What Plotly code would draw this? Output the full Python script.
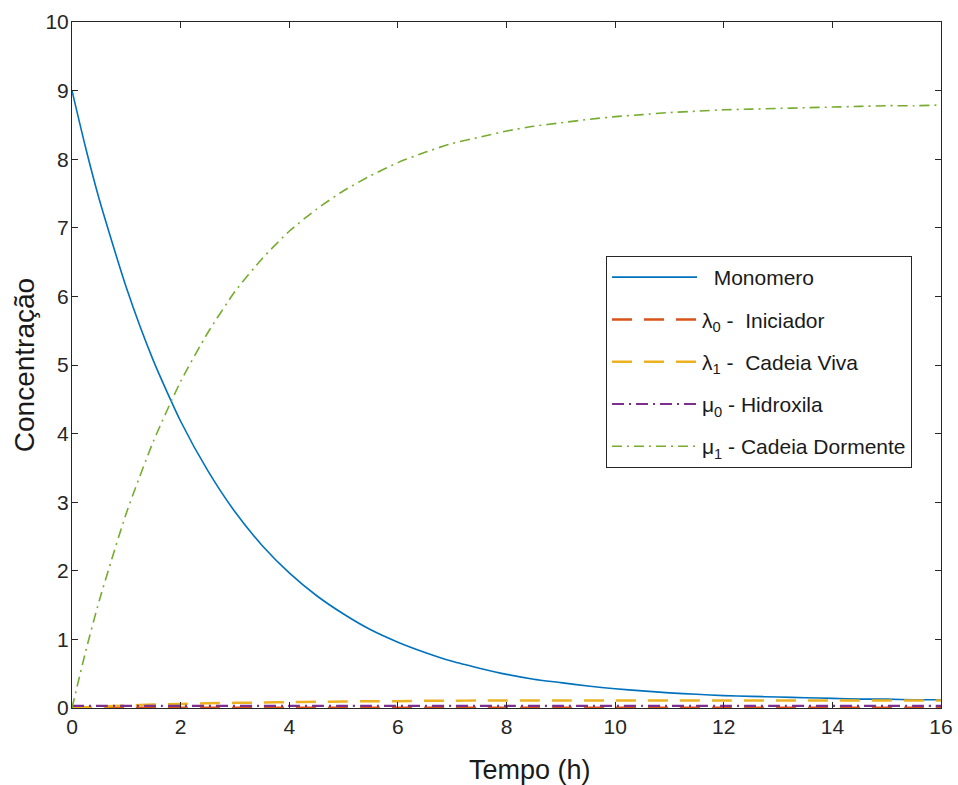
import plotly.graph_objects as go

# Tempo (h)
tempo = [0, 0.25, 0.5, 1, 1.5, 2, 2.5, 3, 3.5, 4, 4.5, 5, 5.5, 6, 6.5, 7, 7.5, 8,
         8.5, 9, 9.5, 10, 10.5, 11, 11.5, 12, 12.5, 13, 13.5, 14, 14.5, 15, 15.5, 16]

# Concentrações
monomero = [9.00, 8.17, 7.42, 6.13, 5.06, 4.18, 3.46, 2.86, 2.37, 1.97, 1.64, 1.37, 1.14, 0.96,
            0.81, 0.68, 0.58, 0.49, 0.42, 0.37, 0.32, 0.28, 0.25, 0.22, 0.20, 0.18, 0.17,
            0.16, 0.15, 0.14, 0.13, 0.13, 0.12, 0.12]
lambda0 = [0.005] * 34
lambda1 = [0.0, 0.01, 0.02, 0.035, 0.05, 0.06, 0.07, 0.075, 0.08, 0.085, 0.09, 0.095, 0.10,
           0.10, 0.105, 0.105, 0.11, 0.11, 0.11, 0.11, 0.11, 0.11, 0.11, 0.11, 0.11, 0.11,
           0.11, 0.11, 0.11, 0.11, 0.11, 0.11, 0.11, 0.11]
mu0 = [0.03] * 34
mu1 = [0.0, 0.82, 1.56, 2.84, 3.89, 4.76, 5.47, 6.07, 6.55, 6.95, 7.27, 7.54, 7.76, 7.95,
       8.10, 8.23, 8.32, 8.41, 8.48, 8.53, 8.58, 8.62, 8.65, 8.68, 8.70, 8.72, 8.73, 8.74,
       8.75, 8.76, 8.77, 8.78, 8.78, 8.79]

nb = "\u00a0"
series = [
    (nb * 2 + "Monomero", monomero, "#0072BD", "solid", 1.6),
    ("λ<sub>0</sub> -" + nb * 2 + "Iniciador", lambda0, "#D95319", "20px,12px", 2.5),
    ("λ<sub>1</sub> -" + nb * 2 + "Cadeia Viva", lambda1, "#EDB120", "20px,12px", 2.5),
    ("μ<sub>0</sub> - Hidroxila", mu0, "#7E2F8E", "12px,5px,2px,5px", 2.2),
    ("μ<sub>1</sub> - Cadeia Dormente", mu1, "#77AC30", "10px,5px,2px,5px", 1.6),
]

fig = go.Figure()
for i, (nome, vals, cor, dash, w) in enumerate(series):
    fig.add_trace(go.Scatter(
        x=tempo, y=vals, mode="lines", name=nome, legendgroup=str(i),
        line=dict(color=cor, dash=dash, width=w, shape="spline", smoothing=0.6),
    ))

eixo = dict(
    showgrid=False, zeroline=False, showline=True, linecolor="#262626", linewidth=1,
    mirror="ticks", ticks="inside", ticklen=6, tickcolor="#262626", automargin=False,
    tickfont=dict(family="Liberation Sans, Arial, sans-serif", size=21, color="#262626"),
)

fig.update_layout(
    width=958, height=785,
    margin=dict(l=72, r=17, t=22, b=77),
    paper_bgcolor="white", plot_bgcolor="white",
    font=dict(family="Liberation Sans, Arial, sans-serif", color="#262626"),
    xaxis=dict(eixo, range=[0, 16], dtick=2, tick0=0),
    yaxis=dict(eixo, range=[0, 10], dtick=1, tick0=0, ticklabelstandoff=-2,
               title=dict(text="Concentração", font=dict(size=28, color="#1a1a1a"), standoff=2)),
    legend=dict(
        x=0.6145, y=0.659, xanchor="left", yanchor="top",
        bgcolor="white", bordercolor="#262626", borderwidth=1,
        font=dict(size=21, color="#1a1a1a"),
        traceorder="grouped", tracegroupgap=12, itemwidth=85,
    ),
    showlegend=True,
)

# rótulo do eixo x, ligeiramente deslocado para a direita
fig.add_annotation(
    text="Tempo (h)", xref="paper", yref="paper", x=0.527, y=-0.09,
    xanchor="center", yanchor="middle", showarrow=False,
    font=dict(size=27, color="#1a1a1a"),
)

fig.write_html("out.html")
